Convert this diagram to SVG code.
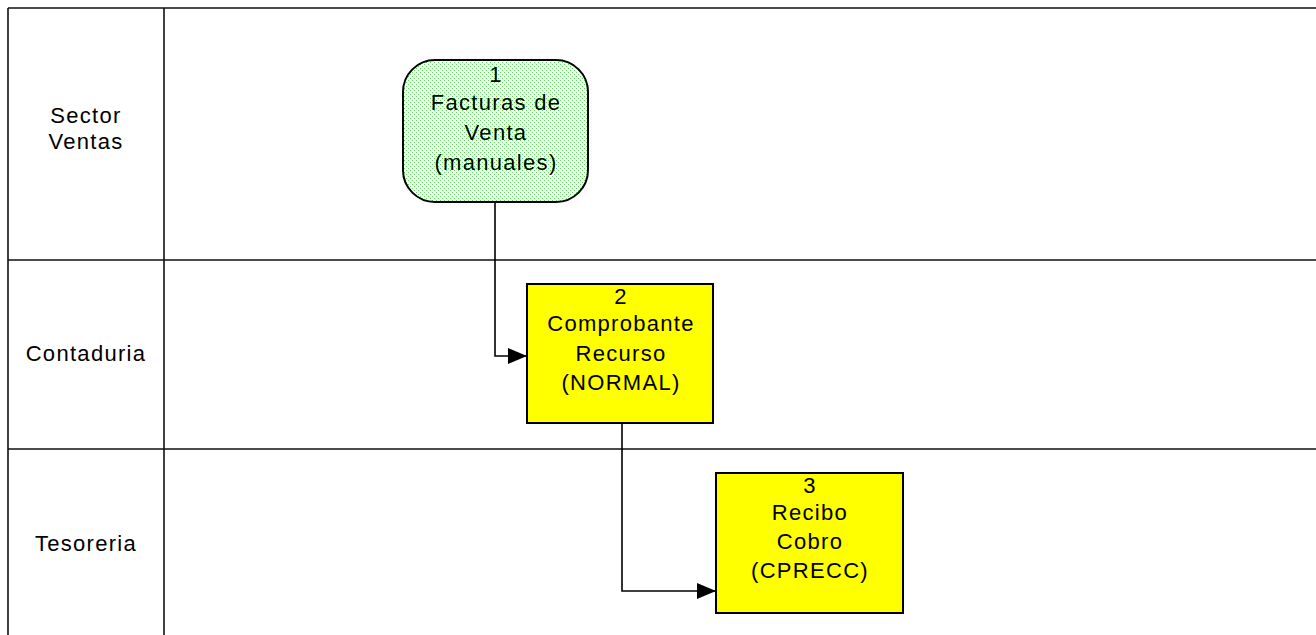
<svg xmlns="http://www.w3.org/2000/svg" width="1316" height="635" viewBox="0 0 1316 635">
<style>
.lane{stroke:#111;stroke-width:1.6;fill:none}
.t{font-family:"Liberation Sans",Arial,sans-serif;font-size:22px;letter-spacing:1.3px;fill:#000;text-anchor:middle}
.box{fill:#ffff00;stroke:#000;stroke-width:2}
.conn{fill:none;stroke:#000;stroke-width:1.6}
</style>
<defs>
<pattern id="dots" width="4" height="4" patternUnits="userSpaceOnUse">
<rect width="4" height="4" fill="#ffffff"/>
<rect x="0" y="0" width="1" height="1" fill="#55e055"/>
<rect x="2" y="2" width="1" height="1" fill="#55e055"/>
</pattern>
<marker id="arr" markerUnits="userSpaceOnUse" markerWidth="20" markerHeight="18" refX="19" refY="8" orient="auto">
<path d="M0,0 L19,8 L0,16 Z" fill="#000"/>
</marker>
</defs>
<rect width="1316" height="635" fill="#fff"/>
<g id="lanes">
<path class="lane" d="M8,8 H1316 M8,8 V635 M164,8 V635 M8,260 H1316 M8,449 H1316"/>
<text class="t" x="86" y="123">Sector</text>
<text class="t" x="86" y="149">Ventas</text>
<text class="t" x="86" y="361">Contaduria</text>
<text class="t" x="86" y="551">Tesoreria</text>
</g>
<g id="connectors">
<path class="conn" d="M495,202 V356 H527" marker-end="url(#arr)"/>
<path class="conn" d="M622,423 V591 H716" marker-end="url(#arr)"/>
</g>
<g id="node1">
<rect x="403" y="60" width="185" height="142" rx="32" ry="32" fill="url(#dots)" stroke="#000" stroke-width="2"/>
<text class="t" x="496" y="82">1</text>
<text class="t" x="496" y="110">Facturas de</text>
<text class="t" x="496" y="140">Venta</text>
<text class="t" x="496" y="170">(manuales)</text>
</g>
<g id="node2">
<rect class="box" x="527" y="284" width="186" height="139"/>
<text class="t" x="621" y="304">2</text>
<text class="t" x="621" y="331">Comprobante</text>
<text class="t" x="621" y="361">Recurso</text>
<text class="t" x="621" y="390">(NORMAL)</text>
</g>
<g id="node3">
<rect class="box" x="716" y="473" width="187" height="140"/>
<text class="t" x="810" y="493">3</text>
<text class="t" x="810" y="520">Recibo</text>
<text class="t" x="810" y="549">Cobro</text>
<text class="t" x="810" y="578">(CPRECC)</text>
</g>
</svg>
